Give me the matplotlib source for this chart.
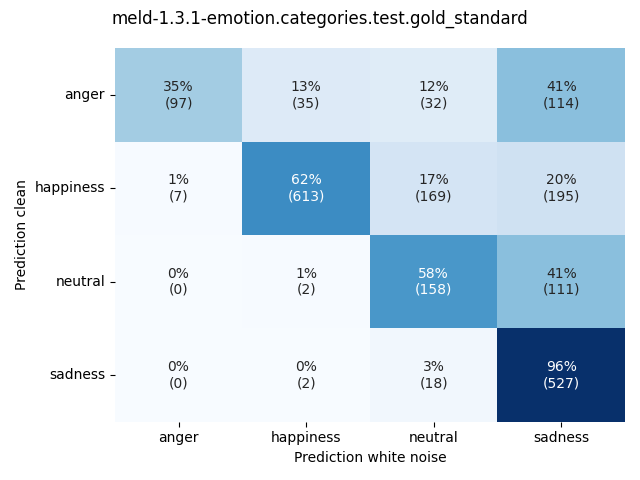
import numpy as np
import matplotlib
matplotlib.use("Agg")
import matplotlib.pyplot as plt
import seaborn as sns

labels = ["anger", "happiness", "neutral", "sadness"]
counts = np.array([
    [97, 35, 32, 114],
    [7, 613, 169, 195],
    [0, 2, 158, 111],
    [0, 2, 18, 527],
])

pct = counts / counts.sum(axis=1, keepdims=True) * 100
annot = [[f"{p:.0f}%\n({c})" for p, c in zip(prow, crow)]
         for prow, crow in zip(pct, counts)]

fig = plt.figure(figsize=(6.4, 4.8))
ax = sns.heatmap(pct, annot=annot, fmt="", cmap="Blues", cbar=False,
                 xticklabels=labels, yticklabels=labels)
ax.set_xlabel("Prediction white noise")
ax.set_ylabel("Prediction clean")
plt.yticks(rotation=0)
fig.suptitle("meld-1.3.1-emotion.categories.test.gold_standard")
plt.tight_layout()
plt.savefig("out.png", dpi=100)
